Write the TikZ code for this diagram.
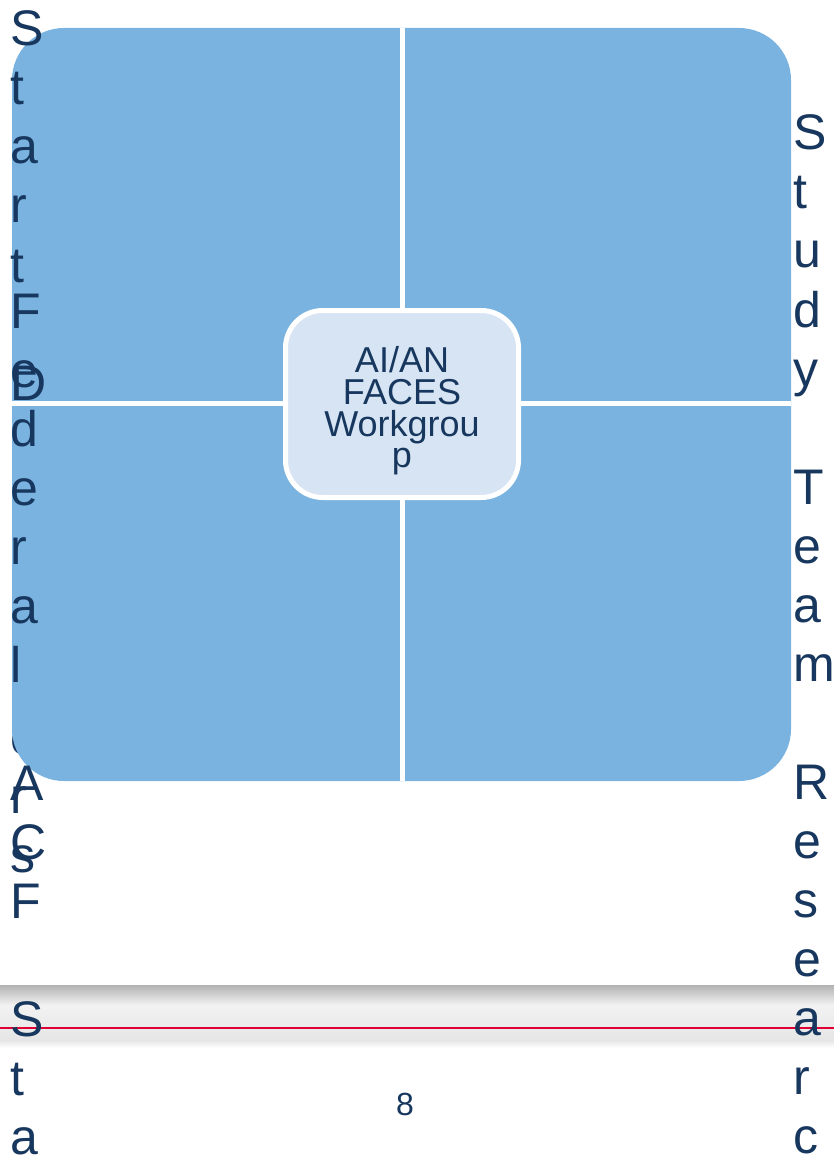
\documentclass[tikz,border=0pt]{standalone}
\usepackage{fontspec}
\setmainfont{Liberation Sans}
\definecolor{navy}{RGB}{23,55,94}
\definecolor{qblue}{RGB}{122,179,224}
\definecolor{cfill}{RGB}{214,228,243}
\definecolor{redline}{RGB}{222,0,52}
\begin{document}
\begin{tikzpicture}[x=0.75pt,y=-0.75pt,
  letter/.style={anchor=base west,inner sep=0pt,outer sep=0pt,text=navy,font=\fontsize{37.5}{44}\selectfont},
  cline/.style={anchor=base,inner sep=0pt,outer sep=0pt,text=navy,font=\fontsize{27}{23}\selectfont},
  centerbox/.style={draw=white,line width=3.75pt,fill=cfill,rounded corners=28pt,minimum width=174.75pt,minimum height=140.25pt,inner sep=0pt},
  pagenum/.style={anchor=base,inner sep=0pt,text=navy,font=\fontsize{24}{28}\selectfont}]
\useasboundingbox (0,0) rectangle (834,1162);
\fill[white] (0,0) rectangle (834,1162);
% letter of "Directors" hidden behind the shape
\node[letter] (hso) at (11,754) {o};
% four quadrants
\fill[qblue,rounded corners=39pt] (12,28) rectangle (791,781);
\fill[white] (399.5,28) rectangle (405,781);
\fill[white] (12,400.5) rectangle (791,406);
% centre
\node[centerbox] (center) at (402,404) {};
\node[cline] (c1) at (402,372) {AI/AN};
\node[cline] (c2) at (402,404) {FACES};
\node[cline] (c3) at (402,436) {Workgrou};
\node[cline] (c4) at (402,467) {p};
% footer band
\shade[top color=gray!60,bottom color=gray!10] (0,985) rectangle (834,1005);
\shade[top color=gray!10,bottom color=gray!20] (0,1005) rectangle (834,1040);
\shade[top color=gray!20,bottom color=white] (0,1040) rectangle (834,1048);
\draw[redline,line width=2pt] (0,1028) -- (834,1028);
\node[pagenum] (page) at (405,1115) {8};
% Head Start Directors (visible letters)
\foreach \ch/\yy [count=\i] in {S/46,t/105,a/164,r/223,t/282,D/400,r/813,s/872}
  \node[letter] (hs\i) at (11,\yy) {\ch};
% Federal ACF Staff
\foreach \ch/\yy [count=\i] in {F/328,e/387,d/446,e/505,r/564,a/623,l/682,A/800,C/859,F/918,S/1036,t/1095,a/1154}
  \node[letter] (fa\i) at (11,\yy) {\ch};
% Study Team Research
\foreach \ch/\yy [count=\i] in {S/150,t/209,u/268,d/327,y/386,T/504,e/563,a/622,m/681,R/799,e/858,s/917,e/976,a/1035,r/1094,c/1153}
  \node[letter] (st\i) at (793,\yy) {\ch};
\end{tikzpicture}
\end{document}
